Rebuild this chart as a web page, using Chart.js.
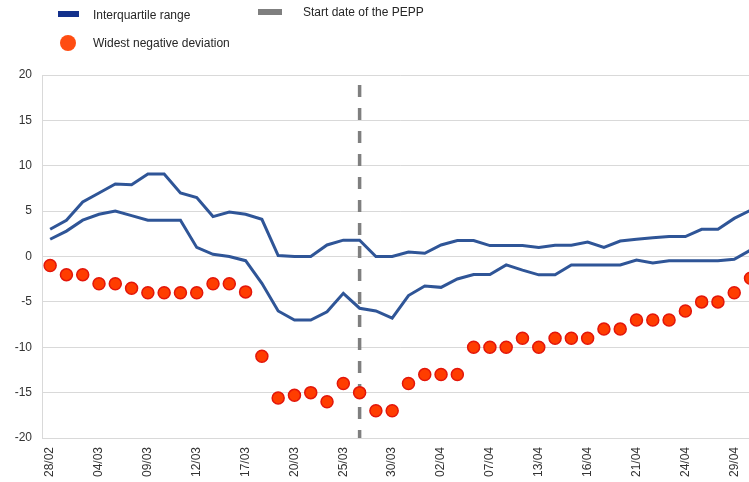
<!DOCTYPE html>
<html>
<head>
<meta charset="utf-8">
<script src="https://cdn.jsdelivr.net/npm/chart.js@4/dist/chart.umd.min.js"></script>
<style>
  html, body { margin: 0; padding: 0; background: #fff; overflow: hidden; width: 749px; height: 482px; }
  #wrap { position: absolute; left: 0; top: 0; width: 774px; height: 482px; }
  .lg { position: absolute; font: 12px "Liberation Sans", Arial, sans-serif; color: #262626; white-space: nowrap; }
  .sw { position: absolute; }
</style>
</head>
<body>
<div id="wrap"><canvas id="c" width="774" height="482"></canvas></div>
<div class="sw" style="left:58px;top:11px;width:21px;height:6px;background:#13318c"></div>
<div class="lg" id="lg1" style="left:93px;top:8px"></div>
<div class="sw" style="left:258px;top:9px;width:24px;height:6px;background:#7f7f7f"></div>
<div class="lg" id="lg2" style="left:303px;top:5px"></div>
<div class="sw" style="left:60px;top:35px;width:16px;height:16px;border-radius:50%;background:#ff4d12"></div>
<div class="lg" id="lg3" style="left:93px;top:36px"></div>
<script>
const dates = ['28/02','02/03','03/03','04/03','05/03','06/03','09/03','10/03','11/03','12/03',
  '13/03','16/03','17/03','18/03','19/03','20/03','23/03','24/03','25/03','26/03',
  '27/03','30/03','31/03','01/04','02/04','03/04','06/04','07/04','08/04','09/04',
  '13/04','14/04','15/04','16/04','17/04','20/04','21/04','22/04','23/04','24/04',
  '27/04','28/04','29/04','30/04'];

const upperQuartile = [3, 4, 6, 7, 8, 7.9, 9.1, 9.1, 7, 6.5,
  4.4, 4.9, 4.65, 4.1, 0.1, 0, 0, 1.27, 1.8, 1.8,
  0, 0, 0.5, 0.35, 1.27, 1.75, 1.75, 1.2, 1.2, 1.2,
  1.0, 1.25, 1.25, 1.6, 1.0, 1.7, 1.9, 2.07, 2.2, 2.2,
  3.0, 3.0, 4.2, 5.1];

const lowerQuartile = [1.9, 2.8, 4.0, 4.65, 5.0, 4.5, 4.0, 4.0, 4.0, 1.0,
  0.24, 0.0, -0.46, -2.95, -6.0, -7.0, -7.0, -6.1, -4.06, -5.7,
  -6.0, -6.8, -4.3, -3.25, -3.4, -2.48, -1.98, -1.98, -0.92, -1.5,
  -2.02, -2.02, -0.94, -0.94, -0.94, -0.94, -0.39, -0.72, -0.46, -0.46,
  -0.46, -0.46, -0.3, 0.7];

const widestNegative = [-1, -2, -2, -3, -3, -3.5, -4, -4, -4, -4,
  -3, -3, -3.9, -11, -15.6, -15.3, -15, -16, -14, -15,
  -17, -17, -14, -13, -13, -13, -10, -10, -10, -9,
  -10, -9, -9, -9, -8, -8, -7, -7, -7, -6,
  -5, -5, -4, -2.4];

const peppDate = '26/03';
const peppRange = [18.9, -20];

const seriesNames = ['Interquartile range', 'Start date of the PEPP', 'Widest negative deviation'];
const yTicks = [-20, -15, -10, -5, 0, 5, 10, 15, 20];

document.getElementById('lg1').textContent = seriesNames[0];
document.getElementById('lg2').textContent = seriesNames[1];
document.getElementById('lg3').textContent = seriesNames[2];

const FONT = '"Liberation Sans", Arial, sans-serif';
const blue = '#2f5597';

new Chart(document.getElementById('c'), {
  type: 'line',
  data: {
    labels: dates,
    datasets: [
      { label: seriesNames[0], data: upperQuartile, borderColor: blue, borderWidth: 3, pointRadius: 0, tension: 0, order: 3 },
      { label: seriesNames[0] + ' (lower)', data: lowerQuartile, borderColor: blue, borderWidth: 3, pointRadius: 0, tension: 0, order: 3 },
      { label: seriesNames[1], data: [{x: peppDate, y: peppRange[0]}, {x: peppDate, y: peppRange[1]}],
        borderColor: '#7f7f7f', borderWidth: 3.5, borderDash: [12, 11], pointRadius: 0, order: 2, borderCapStyle: 'butt' },
      { label: seriesNames[2], data: widestNegative, showLine: false, pointRadius: 6, pointHoverRadius: 6,
        pointBackgroundColor: '#ff3d00', pointBorderColor: '#e3160a', pointBorderWidth: 1.5, order: 1 }
    ]
  },
  options: {
    responsive: false,
    animation: false,
    events: [],
    layout: { padding: { top: 75, left: 0, right: 0, bottom: 0 } },
    plugins: { legend: { display: false }, tooltip: { enabled: false } },
    scales: {
      x: {
        offset: true,
        grid: { display: false, drawTicks: false },
        border: { display: true, color: '#d9d9d9', width: 1 },
        ticks: {
          autoSkip: false, maxRotation: 90, minRotation: 90, padding: 9,
          color: '#333', font: { family: FONT, size: 12 },
          callback: function(v, i) { return i % 3 === 0 ? dates[i] : ''; }
        },
        afterFit: function(s) { s.height = 44; }
      },
      y: {
        min: -20, max: 20,
        afterBuildTicks: function(s) { s.ticks = yTicks.map(v => ({ value: v })); },
        grid: { color: '#d9d9d9', lineWidth: 1, drawTicks: false },
        border: { display: true, color: '#d9d9d9', width: 1 },
        ticks: { padding: 10, color: '#333', font: { family: FONT, size: 12 } },
        afterFit: function(s) { s.width = 42; }
      }
    }
  }
});
</script>
</body>
</html>
